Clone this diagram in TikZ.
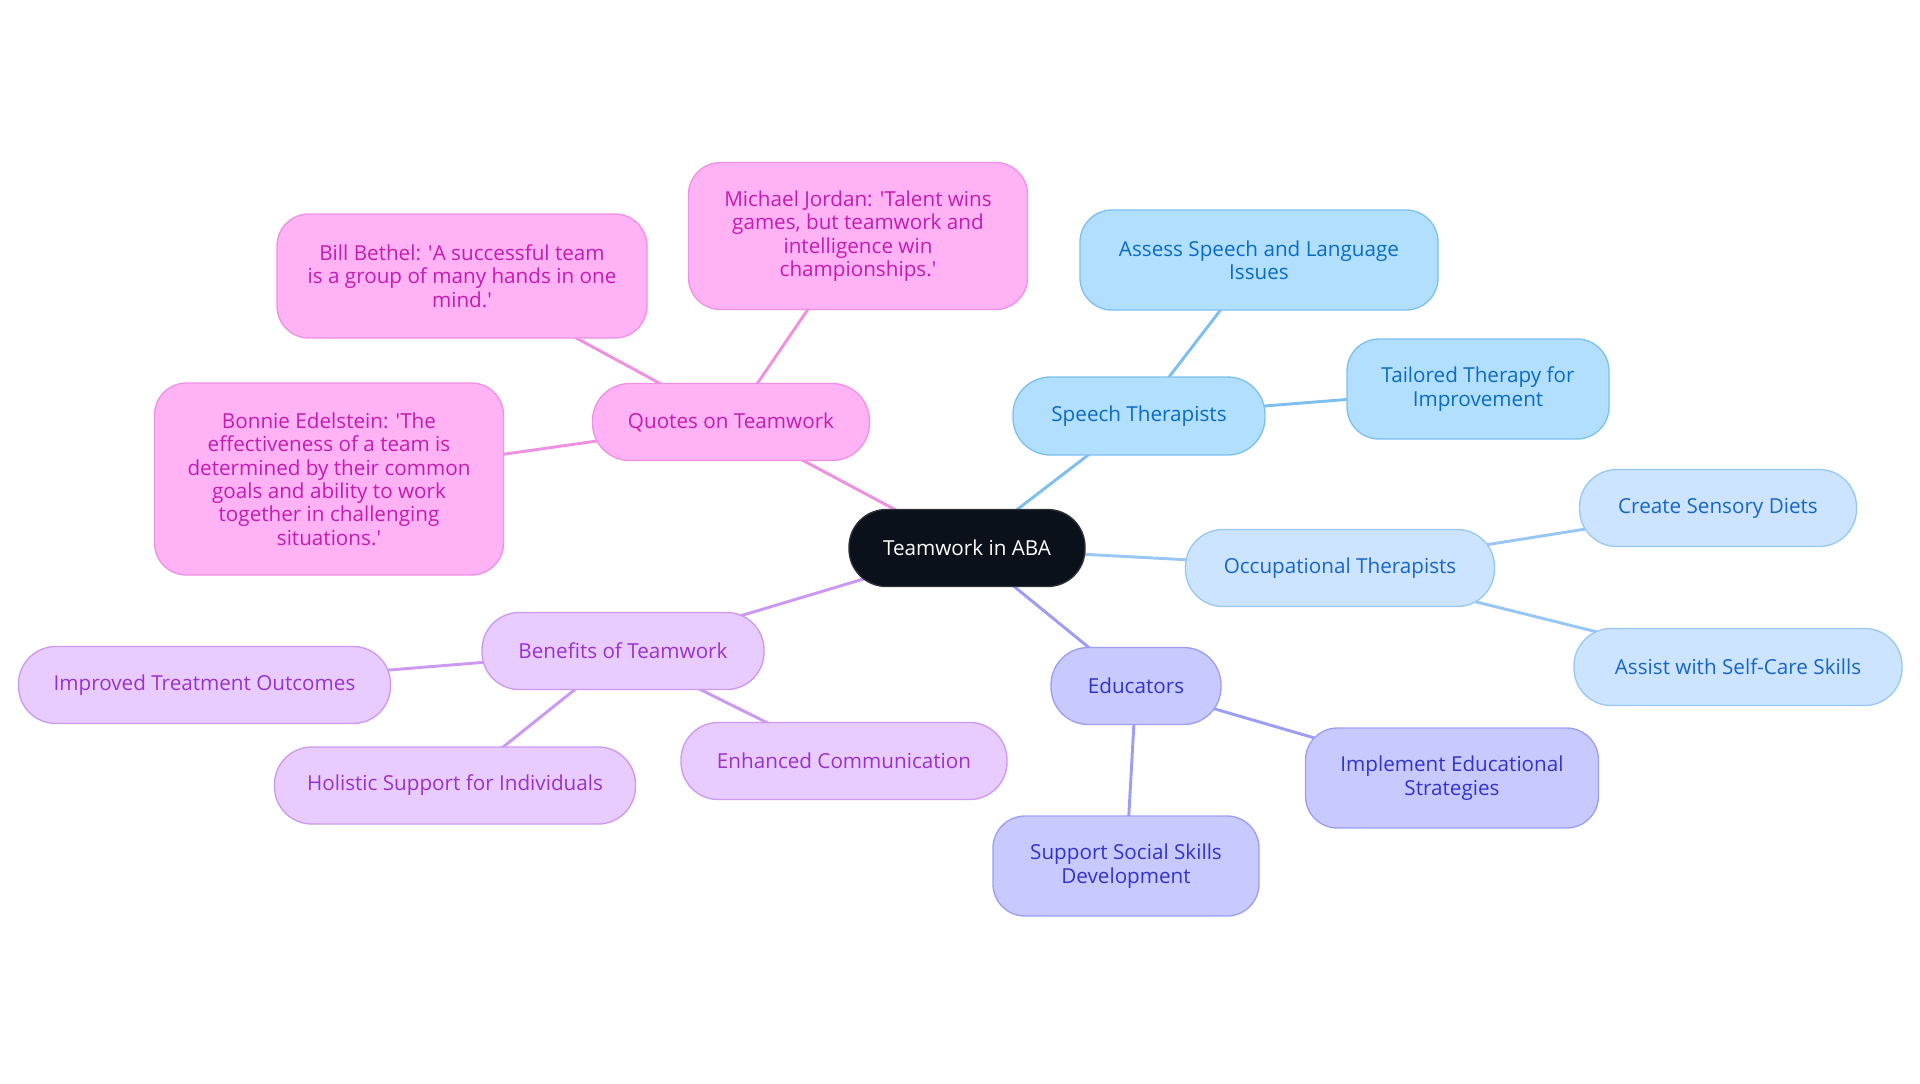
\documentclass[tikz,border=0pt]{standalone}
\usepackage{fontspec}
\setmainfont{Open Sans}
\usetikzlibrary{backgrounds}
\newcommand\pxu[1]{#1*0.75pt}
\definecolor{pkfill}{HTML}{FFB3F5}
\definecolor{pkdraw}{HTML}{F090E4}
\definecolor{pktext}{HTML}{C41BB0}
\definecolor{pkline}{HTML}{F090E0}
\definecolor{blfill}{HTML}{B3DFFF}
\definecolor{bldraw}{HTML}{7DC0F0}
\definecolor{bltext}{HTML}{0A6BC5}
\definecolor{lbfill}{HTML}{CCE4FF}
\definecolor{lbdraw}{HTML}{99C7F5}
\definecolor{lbtext}{HTML}{1766C7}
\definecolor{edfill}{HTML}{C8CAFF}
\definecolor{eddraw}{HTML}{9C9EF5}
\definecolor{edtext}{HTML}{3333CC}
\definecolor{bnfill}{HTML}{E8CCFF}
\definecolor{bndraw}{HTML}{CC99F2}
\definecolor{bntext}{HTML}{9932CC}
\definecolor{ctfill}{HTML}{0B111A}
\tikzset{
  base/.style={draw, line width=1pt, rounded corners=24pt, align=center,
    inner sep=0pt, font=\fontsize{15.5pt}{17.5pt}\selectfont},
  pill/.style={rounded corners=28pt},
  pk/.style={base, fill=pkfill, draw=pkdraw, text=pktext},
  bl/.style={base, fill=blfill, draw=bldraw, text=bltext},
  lb/.style={base, fill=lbfill, draw=lbdraw, text=lbtext},
  ed/.style={base, fill=edfill, draw=eddraw, text=edtext},
  bn/.style={base, fill=bnfill, draw=bndraw, text=bntext},
  ct/.style={base, pill, fill=ctfill, draw=ctfill!70!gray, text=white},
  sz/.style 2 args={minimum width=\pxu{#1}, minimum height=\pxu{#2}},
  link/.style={line width=2.2pt},
}
\begin{document}
\begin{tikzpicture}[x=0.75pt, y=-0.75pt]
\useasboundingbox (0,0) rectangle (1920,1083);
\node[ct, sz={236}{77}] (c) at (967,548) {Teamwork in ABA};
% quotes
\node[pk, pill, sz={277}{77}] (q) at (731,422) {Quotes on Teamwork};
\node[pk, sz={370}{124}] (q1) at (462,276) {Bill Bethel: \textquotesingle A successful team\\is a group of many hands in one\\mind.\textquotesingle};
\node[pk, sz={339}{147}] (q2) at (858,236) {Michael Jordan: \textquotesingle Talent wins\\games, but teamwork and\\intelligence win\\championships.\textquotesingle};
\node[pk, sz={349}{192}] (q3) at (329,479) {Bonnie Edelstein: \textquotesingle The\\effectiveness of a team is\\determined by their common\\goals and ability to work\\together in challenging\\situations.\textquotesingle};
% speech
\node[bl, pill, sz={252}{78}] (s) at (1139,416) {Speech Therapists};
\node[bl, sz={358}{100}] (s1) at (1259,260) {Assess Speech and Language\\Issues};
\node[bl, sz={262}{100}] (s2) at (1478,389) {Tailored Therapy for\\Improvement};
% occupational
\node[lb, pill, sz={309}{77}] (o) at (1340,568) {Occupational Therapists};
\node[lb, pill, sz={277}{77}] (o1) at (1718,508) {Create Sensory Diets};
\node[lb, pill, sz={328}{77}] (o2) at (1738,667) {Assist with Self-Care Skills};
% educators
\node[ed, pill, sz={170}{77}] (e) at (1136,686) {Educators};
\node[ed, sz={293}{100}] (e1) at (1452,778) {Implement Educational\\Strategies};
\node[ed, sz={266}{100}] (e2) at (1126,866) {Support Social Skills\\Development};
% benefits
\node[bn, pill, sz={282}{77}] (b) at (623,651) {Benefits of Teamwork};
\node[bn, pill, sz={372}{77}] (b1) at (204.5,685) {Improved Treatment Outcomes};
\node[bn, pill, sz={361}{77}] (b2) at (455,785.5) {Holistic Support for Individuals};
\node[bn, pill, sz={326}{77}] (b3) at (844,761) {Enhanced Communication};
\begin{scope}[on background layer]
\draw[link, pkline] (c.center) -- (q.center);
\draw[link, pkline] (q.center) -- (q1.center);
\draw[link, pkline] (q.center) -- (q2.center);
\draw[link, pkline] (q.center) -- (q3.center);
\draw[link, bldraw] (c.center) -- (s.center);
\draw[link, bldraw] (s.center) -- (s1.center);
\draw[link, bldraw] (s.center) -- (s2.center);
\draw[link, lbdraw] (c.center) -- (o.center);
\draw[link, lbdraw] (o.center) -- (o1.center);
\draw[link, lbdraw] (o.center) -- (o2.center);
\draw[link, eddraw] (c.center) -- (e.center);
\draw[link, eddraw] (e.center) -- (e1.center);
\draw[link, eddraw] (e.center) -- (e2.center);
\draw[link, bndraw] (c.center) -- (b.center);
\draw[link, bndraw] (b.center) -- (b1.center);
\draw[link, bndraw] (b.center) -- (b2.center);
\draw[link, bndraw] (b.center) -- (b3.center);
\end{scope}
\end{tikzpicture}
\end{document}
